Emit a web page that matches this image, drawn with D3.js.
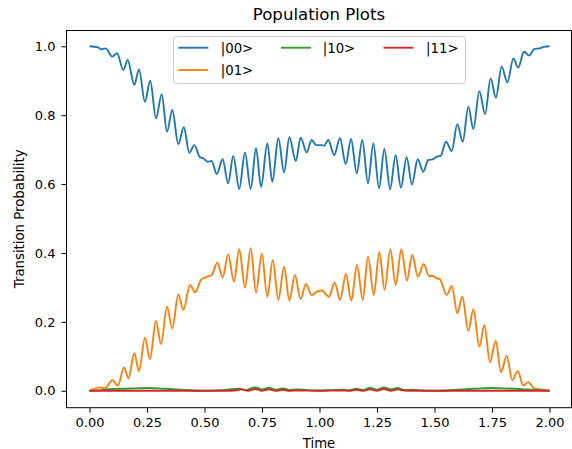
<!DOCTYPE html>
<html>
<head>
<meta charset="utf-8">
<script src="https://cdn.jsdelivr.net/npm/d3@7"></script>
<style>
  html, body { margin: 0; padding: 0; background: #fff; }
  svg { display: block; }
  text { font-family: "DejaVu Sans", sans-serif; fill: #000; }
</style>
</head>
<body>
<svg id="chart" width="572" height="449"></svg>
<script>
// ---- data (time, probability) ----
const seriesNames = ["|00>", "|01>", "|10>", "|11>"];
const seriesColors = ["#1f77b4", "#ff7f0e", "#2ca02c", "#d62728"];
const xTicks = [0, 0.25, 0.5, 0.75, 1.0, 1.25, 1.5, 1.75, 2.0];
const yTicks = [0, 0.2, 0.4, 0.6, 0.8, 1.0];

const pop00 = [
  [0.000,1.000],[0.038,0.997],[0.050,0.991],[0.070,0.994],[0.099,0.970],[0.120,0.980],
  [0.147,0.931],[0.166,0.960],[0.195,0.888],[0.215,0.933],[0.241,0.839],[0.264,0.900],
  [0.289,0.791],[0.314,0.861],[0.337,0.752],[0.360,0.815],[0.386,0.716],[0.410,0.765],
  [0.434,0.691],[0.456,0.713],[0.480,0.678],[0.495,0.675],[0.514,0.665],[0.531,0.667],
  [0.553,0.629],[0.579,0.672],[0.603,0.602],[0.625,0.682],[0.651,0.586],[0.676,0.691],
  [0.701,0.586],[0.724,0.704],[0.746,0.592],[0.773,0.718],[0.795,0.607],[0.821,0.733],
  [0.846,0.634],[0.869,0.736],[0.897,0.667],[0.918,0.735],[0.944,0.692],[0.966,0.728],
  [0.985,0.713],[1.010,0.713],[1.020,0.711],[1.038,0.728],[1.064,0.684],[1.089,0.733],
  [1.114,0.658],[1.137,0.731],[1.162,0.631],[1.186,0.728],[1.211,0.602],[1.234,0.718],
  [1.259,0.588],[1.282,0.702],[1.307,0.585],[1.331,0.684],[1.354,0.590],[1.379,0.678],
  [1.402,0.599],[1.427,0.672],[1.451,0.636],[1.473,0.670],[1.492,0.672],[1.510,0.680],
  [1.527,0.682],[1.550,0.723],[1.575,0.696],[1.599,0.774],[1.623,0.723],[1.647,0.825],
  [1.669,0.760],[1.695,0.870],[1.720,0.803],[1.744,0.907],[1.767,0.851],[1.792,0.941],
  [1.817,0.895],[1.843,0.965],[1.864,0.938],[1.889,0.984],[1.912,0.973],[1.933,0.992],
  [1.956,0.994],[1.980,0.999],[2.000,1.000]
];

const pop01 = [
  [0.000,0.000],[0.046,0.010],[0.067,0.007],[0.099,0.031],[0.123,0.015],[0.151,0.068],
  [0.169,0.036],[0.195,0.109],[0.215,0.057],[0.241,0.154],[0.263,0.092],[0.289,0.203],
  [0.311,0.135],[0.337,0.244],[0.360,0.181],[0.386,0.280],[0.408,0.235],[0.437,0.307],
  [0.459,0.286],[0.485,0.322],[0.510,0.331],[0.531,0.336],[0.556,0.372],[0.579,0.329],
  [0.603,0.396],[0.628,0.317],[0.651,0.411],[0.676,0.300],[0.701,0.414],[0.724,0.285],
  [0.749,0.399],[0.773,0.273],[0.797,0.380],[0.821,0.264],[0.846,0.360],[0.869,0.262],
  [0.893,0.336],[0.918,0.266],[0.941,0.310],[0.966,0.278],[0.988,0.288],[1.010,0.291],
  [1.041,0.273],[1.066,0.314],[1.090,0.264],[1.115,0.339],[1.138,0.262],[1.163,0.365],
  [1.188,0.264],[1.211,0.389],[1.236,0.278],[1.260,0.402],[1.283,0.293],[1.308,0.411],
  [1.331,0.307],[1.356,0.411],[1.380,0.320],[1.403,0.394],[1.428,0.331],[1.453,0.368],
  [1.476,0.333],[1.493,0.333],[1.508,0.327],[1.523,0.324],[1.553,0.278],[1.575,0.304],
  [1.599,0.225],[1.621,0.273],[1.647,0.174],[1.669,0.237],[1.695,0.128],[1.717,0.191],
  [1.741,0.083],[1.766,0.145],[1.789,0.054],[1.814,0.102],[1.838,0.031],[1.862,0.057],
  [1.886,0.015],[1.908,0.025],[1.933,0.007],[1.959,0.004],[1.988,0.001],[2.000,0.000]
];

const pop10 = [
  [0.00,0.000],[0.05,0.002],[0.10,0.005],[0.15,0.006],[0.20,0.007],[0.25,0.008],
  [0.30,0.007],[0.35,0.005],[0.40,0.003],[0.45,0.001],[0.50,0.000],[0.55,0.001],
  [0.60,0.003],[0.65,0.006],[0.68,0.002],[0.72,0.010],[0.75,0.004],[0.78,0.009],
  [0.81,0.003],[0.84,0.007],[0.87,0.002],[0.90,0.004],[0.95,0.002],[1.00,0.001],
  [1.05,0.002],[1.10,0.003],[1.13,0.002],[1.16,0.006],[1.19,0.002],[1.22,0.009],
  [1.25,0.003],[1.28,0.010],[1.31,0.004],[1.34,0.008],[1.37,0.002],[1.40,0.003],
  [1.45,0.001],[1.50,0.000],[1.55,0.001],[1.60,0.003],[1.65,0.005],[1.70,0.007],
  [1.75,0.008],[1.80,0.007],[1.85,0.006],[1.90,0.004],[1.95,0.002],[2.00,0.000]
];

const pop11 = [
  [0.00,0.000],[0.20,0.000],[0.40,0.000],[0.50,0.000],[0.60,0.000],[0.63,0.001],
  [0.66,0.004],[0.69,0.000],[0.72,0.005],[0.75,0.000],[0.78,0.004],[0.81,0.000],
  [0.84,0.003],[0.87,0.000],[0.90,0.001],[1.00,0.000],[1.10,0.001],[1.13,0.000],
  [1.16,0.003],[1.19,0.000],[1.22,0.004],[1.25,0.000],[1.28,0.005],[1.31,0.000],
  [1.34,0.004],[1.37,0.001],[1.40,0.000],[1.60,0.000],[1.80,0.000],[2.00,0.000]
];

const allSeries = [pop00, pop01, pop10, pop11];

// ---- layout ----
const svg = d3.select("#chart");
const plot = { left: 66.5, right: 571.5, top: 30, bottom: 407.7 };

const x = d3.scaleLinear().domain([-0.1, 2.1]).range([66.5, 572.5]);
const y = d3.scaleLinear().domain([-0.0491, 1.0473]).range([407.7, 30]);

svg.append("defs").append("clipPath").attr("id", "clip")
  .append("rect")
  .attr("x", plot.left).attr("y", plot.top)
  .attr("width", plot.right - plot.left).attr("height", plot.bottom - plot.top);

// lines
const line = d3.line()
  .x(d => x(d[0]))
  .y(d => y(d[1]))
  .curve(d3.curveMonotoneX);

const lines = svg.append("g").attr("clip-path", "url(#clip)");
allSeries.forEach((s, i) => {
  lines.append("path")
    .datum(s)
    .attr("d", line)
    .attr("fill", "none")
    .attr("stroke", seriesColors[i])
    .attr("stroke-width", 1.9)
    .attr("stroke-linejoin", "round")
    .attr("stroke-linecap", "butt");
});

// axes
const xAxis = d3.axisBottom(x).tickValues(xTicks).tickFormat(d3.format(".2f"))
  .tickSize(5).tickPadding(5);
const gx = svg.append("g").attr("transform", `translate(0,${plot.bottom})`).call(xAxis);
gx.select(".domain").remove();
gx.selectAll("line").attr("stroke", "#000").attr("stroke-width", 1);
gx.selectAll("text").attr("font-size", 13).attr("font-family", "DejaVu Sans").attr("fill", "#000");

const yAxis = d3.axisLeft(y).tickValues(yTicks).tickFormat(d3.format(".1f"))
  .tickSize(5).tickPadding(6);
const gy = svg.append("g").attr("transform", `translate(${plot.left},0)`).call(yAxis);
gy.select(".domain").remove();
gy.selectAll("line").attr("stroke", "#000").attr("stroke-width", 1);
gy.selectAll("text").attr("font-size", 13).attr("font-family", "DejaVu Sans").attr("fill", "#000");

// frame
svg.append("rect")
  .attr("x", plot.left).attr("y", plot.top + 0.5)
  .attr("width", plot.right - plot.left).attr("height", plot.bottom - plot.top - 0.5)
  .attr("fill", "none").attr("stroke", "#000").attr("stroke-width", 1);

// labels
svg.append("text")
  .attr("x", (plot.left + plot.right) / 2).attr("y", 19.5)
  .attr("text-anchor", "middle").attr("font-size", 16.6)
  .text("Population Plots");

svg.append("text")
  .attr("x", (plot.left + plot.right) / 2).attr("y", 447.5)
  .attr("text-anchor", "middle").attr("font-size", 13.3)
  .text("Time");

svg.append("text")
  .attr("transform", `translate(23.5,${(plot.top + plot.bottom) / 2}) rotate(-90)`)
  .attr("text-anchor", "middle").attr("font-size", 13.3)
  .text("Transition Probability");

// legend
const legend = svg.append("g");
legend.append("rect")
  .attr("x", 173.5).attr("y", 36.5).attr("width", 292).attr("height", 47)
  .attr("rx", 3).attr("ry", 3)
  .attr("fill", "#fff").attr("fill-opacity", 0.8)
  .attr("stroke", "#cccccc").attr("stroke-width", 1);

const legendPos = [
  { lx: 178.3, tx: 220.7, cy: 47.7 },
  { lx: 178.3, tx: 220.7, cy: 70.0 },
  { lx: 281.0, tx: 322.7, cy: 47.7 },
  { lx: 383.5, tx: 426.0, cy: 47.7 }
];
seriesNames.forEach((name, i) => {
  const p = legendPos[i];
  legend.append("line")
    .attr("x1", p.lx).attr("x2", p.lx + 30)
    .attr("y1", p.cy).attr("y2", p.cy)
    .attr("stroke", seriesColors[i]).attr("stroke-width", 1.9);
  legend.append("text")
    .attr("x", p.tx).attr("y", p.cy + 5.3)
    .attr("font-size", 13.3)
    .text(name);
});
</script>
</body>
</html>
